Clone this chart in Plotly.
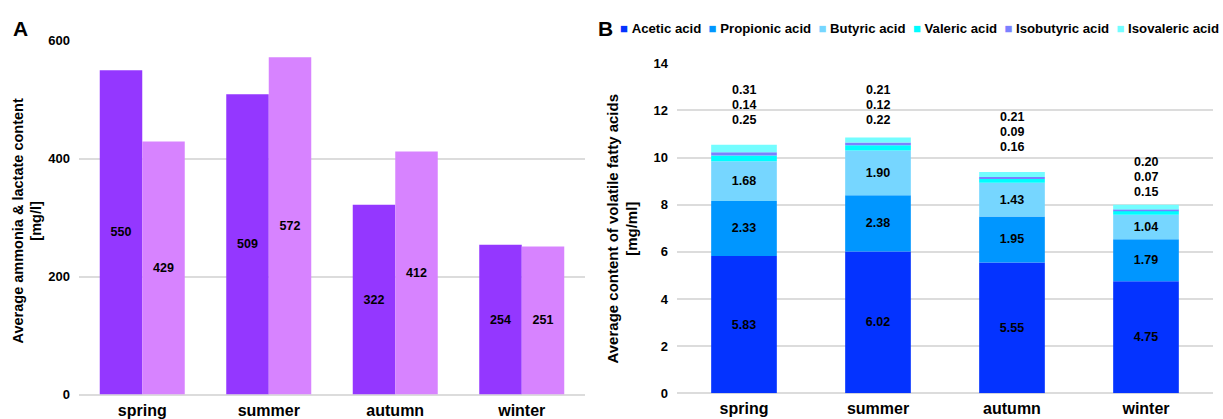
import numpy as np
import plotly.graph_objects as go

# ---- data -------------------------------------------------------------
seasons = ["spring", "summer", "autumn", "winter"]

# panel A: ammonia and lactate [mg/l]
ammonia = [550, 509, 322, 254]
lactate = [429, 572, 412, 251]

# panel B: volatile fatty acids [mg/ml]
acetic = [5.83, 6.02, 5.55, 4.75]
propionic = [2.33, 2.38, 1.95, 1.79]
butyric = [1.68, 1.90, 1.43, 1.04]
valeric = [0.25, 0.22, 0.16, 0.15]
isobutyric = [0.14, 0.12, 0.09, 0.07]
isovaleric = [0.31, 0.21, 0.21, 0.20]

acid_names = ["Acetic acid", "Propionic acid", "Butyric acid",
              "Valeric acid", "Isobutyric acid", "Isovaleric acid"]
acid_values = [acetic, propionic, butyric, valeric, isobutyric, isovaleric]

# ---- styling ----------------------------------------------------------
W, H = 1223, 419
FONT = "Liberation Sans, Arial, Helvetica, sans-serif"
INK = "#000000"
GRID = "#dcdcdc"
A_COLORS = ["#9437FF", "#D783FF"]
ACID_COLORS = ["#0433FF", "#0096FF", "#76D6FF", "#00FDFF", "#7A81FF", "#73FDFF"]
LABEL_LIFT = [25, 18, 25, 13]   # px gap between stack top and first small-acid label
LINE_STEP = 14.8                # px between stacked small-acid labels


def px_x(p):
    return p / W


def px_y(p):
    return (H - p) / H


fig = go.Figure()

# ---- panel A: grouped bars -------------------------------------------
bar_w_a = 0.336
for vals, color, off in [(ammonia, A_COLORS[0], -bar_w_a), (lactate, A_COLORS[1], 0.0)]:
    fig.add_trace(go.Bar(
        x=seasons, y=vals, xaxis="x", yaxis="y",
        width=bar_w_a, offset=off,
        marker=dict(color=color, line=dict(width=0)),
        text=[str(v) for v in vals],
        textposition="inside", insidetextanchor="middle", textangle=0,
        insidetextfont=dict(family=FONT, size=12.5, color=INK, weight="bold"),
        showlegend=False,
    ))

# ---- panel B: stacked bars (bases accumulated from the data) ----------
bar_w_b = 0.49
stack = np.vstack([np.array(v, dtype=float) for v in acid_values])
bases = np.vstack([np.zeros(len(seasons)), np.cumsum(stack, axis=0)[:-1]])
totals = stack.sum(axis=0)
for i, (name, vals, color) in enumerate(zip(acid_names, acid_values, ACID_COLORS)):
    show_text = i < 3
    fig.add_trace(go.Bar(
        x=seasons, y=vals, base=bases[i], xaxis="x2", yaxis="y2",
        width=bar_w_b, name=name,
        marker=dict(color=color, line=dict(width=0)),
        text=[f"{v:.2f}" for v in vals] if show_text else None,
        textposition="inside" if show_text else "none",
        insidetextanchor="middle", textangle=0,
        insidetextfont=dict(family=FONT, size=12.5, color=INK, weight="bold"),
        showlegend=False,
    ))

annotations = []

# small-acid values stacked above each bar: valeric, isobutyric, isovaleric
for j, season in enumerate(seasons):
    for k, vals in enumerate([valeric, isobutyric, isovaleric]):
        annotations.append(dict(
            x=season, y=totals[j], xref="x2", yref="y2",
            text=f"{vals[j]:.2f}", showarrow=False,
            yshift=LABEL_LIFT[j] + k * LINE_STEP,
            xanchor="center", yanchor="middle",
            font=dict(family=FONT, size=12.5, color=INK, weight="bold"),
        ))

# axis titles
annotations.append(dict(
    x=px_x(27.5), y=px_y(221), xref="paper", yref="paper",
    text="Average ammonia & lactate content<br>[mg/l]",
    textangle=-90, showarrow=False, xanchor="center", yanchor="middle",
    font=dict(family=FONT, size=14.5, color=INK, weight="bold"),
))
annotations.append(dict(
    x=px_x(621.5), y=px_y(229), xref="paper", yref="paper",
    text="Average content of volatile fatty acids<br>[mg/ml]",
    textangle=-90, showarrow=False, xanchor="center", yanchor="middle",
    font=dict(family=FONT, size=15, color=INK, weight="bold"),
))

# panel letters
for letter, xp in [("A", 20), ("B", 605)]:
    annotations.append(dict(
        x=px_x(xp), y=px_y(28), xref="paper", yref="paper",
        text=letter, showarrow=False, xanchor="center", yanchor="middle",
        font=dict(family=FONT, size=21, color=INK, weight="bold"),
    ))

# legend row for panel B
legend_text = "\u00a0\u00a0".join(
    f"<span style='color:{c}'>\u25a0</span>\u00a0{n}"
    for n, c in zip(acid_names, ACID_COLORS)
)
annotations.append(dict(
    x=px_x(1221), y=px_y(28), xref="paper", yref="paper",
    text=legend_text, showarrow=False, xanchor="right", yanchor="middle",
    font=dict(family=FONT, size=13.2, color=INK, weight="bold"),
))

tick_font = dict(family=FONT, size=13, color=INK, weight="bold")
cat_font = dict(family=FONT, size=16, color=INK, weight="bold")

common_x = dict(type="category", range=[-0.5, 3.5], automargin=False,
                showgrid=False, zeroline=False, showline=False, ticks="",
                tickfont=cat_font, ticklabelstandoff=4)
common_y = dict(automargin=False, showgrid=True, gridcolor=GRID, gridwidth=1.5,
                zeroline=True, zerolinecolor=GRID, zerolinewidth=1.5,
                showline=False, ticks="", tickfont=tick_font,
                ticklabelstandoff=8)

fig.update_layout(
    width=W, height=H,
    margin=dict(l=0, r=0, t=0, b=0, pad=0),
    paper_bgcolor="white", plot_bgcolor="white",
    barmode="overlay",
    annotations=annotations,
    xaxis=dict(domain=[px_x(79), px_x(585)], anchor="y", **common_x),
    yaxis=dict(domain=[px_y(394.5), px_y(40.7)], anchor="x",
               range=[0, 600], tickvals=[0, 200, 400, 600], **common_y),
    xaxis2=dict(domain=[px_x(677), px_x(1213)], anchor="y2", **common_x),
    yaxis2=dict(domain=[px_y(393.3), px_y(63.3)], anchor="x2",
                range=[0, 14], tickvals=list(range(0, 15, 2)), **common_y),
)

fig.write_html("out.html")
